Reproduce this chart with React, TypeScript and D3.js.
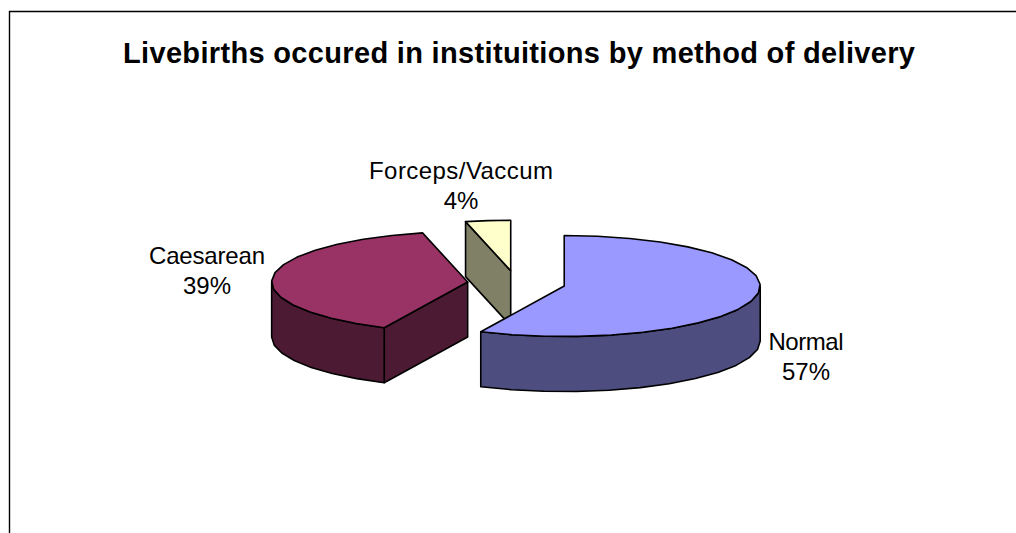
import React from "react";
import * as d3 from "d3";

const title = "Livebirths occured in instituitions by method of delivery";
const categories = ["Normal", "Caesarean", "Forceps/Vaccum"];
const shares = [57, 39.3, 3.7];
const topColors = ["#9999FF", "#993366", "#FFFFCC"];
const sideColors = ["#4D4D80", "#4D1A33", "#808066"];
const labelAnchors: [number, number][] = [[806, 350], [207, 264], [461, 179]];
const labelWidths = [75, 116, 184];

const W = 1016, H = 533;
const RX = 196, RY = 50.5, DEPTH = 55, EXPLODE = 0.25;
const CX = 516.4, CY = 283.3;
const ARC_STEP = (10 * Math.PI) / 180;

const pie = d3.pie<number>().sort(null).value((d) => d);
const slices = pie(shares);
const sx = d3.scaleLinear().domain([-1, 1]).range([-RX, RX]);
const sy = d3.scaleLinear().domain([-1, 1]).range([-RY, RY]);
const line = d3.line<[number, number]>().x((d) => d[0]).y((d) => d[1]);

function rim(cx: number, cy: number, a0: number, a1: number): [number, number][] {
  const n = Math.max(1, Math.ceil((a1 - a0) / ARC_STEP));
  return d3.range(n + 1).map((i) => {
    const a = a0 + ((a1 - a0) * i) / n;
    return [cx + sx(Math.sin(a)), cy + sy(-Math.cos(a))] as [number, number];
  });
}
const drop = (p: [number, number]): [number, number] => [p[0], p[1] + DEPTH];

function Slice({ i }: { i: number }) {
  const s = slices[i];
  const mid = (s.startAngle + s.endAngle) / 2;
  const cx = CX + EXPLODE * sx(Math.sin(mid));
  const cy = CY + EXPLODE * sy(-Math.cos(mid));
  const c: [number, number] = [cx, cy];
  const arc = rim(cx, cy, s.startAngle, s.endAngle);
  const common = { stroke: "#000", strokeWidth: 1.6, strokeLinejoin: "round" as const };

  // Outer wall: only the part of the rim on the front half of the ellipse
  const lo = Math.max(s.startAngle, Math.PI / 2);
  const hi = Math.min(s.endAngle, (3 * Math.PI) / 2);
  const wallRim = hi > lo ? rim(cx, cy, lo, hi) : [];
  const wall = wallRim.length ? [...wallRim, ...wallRim.slice().reverse().map(drop)] : null;

  // Cut face from the centre to the slice's first rim point, seen on the two left slices
  const start = arc[0];
  const cut = i > 0 ? [start, c, drop(c), drop(start)] : null;

  return (
    <g>
      {cut && <path d={line(cut) + "Z"} fill={sideColors[i]} {...common} />}
      {wall && <path d={line(wall) + "Z"} fill={sideColors[i]} {...common} />}
      <path d={line([c, ...arc]) + "Z"} fill={topColors[i]} {...common} />
    </g>
  );
}

export default function App() {
  return (
    <svg
      width={W}
      height={H}
      viewBox={`0 0 ${W} ${H}`}
      style={{ position: "fixed", left: 0, top: 0, background: "#fff" }}
      fontFamily="'Liberation Sans', Arial, sans-serif"
    >
      <path d={`M9.5 ${H}V11.5H${W}`} fill="none" stroke="#000" strokeWidth={1.4} />
      <text x={519} y={63} textAnchor="middle" fontSize={29} fontWeight={700} fill="#000" textLength={792} lengthAdjust="spacing">
        {title}
      </text>
      <Slice i={2} />
      <Slice i={1} />
      <Slice i={0} />
      {categories.map((c, i) => (
        <g key={c} fontSize={24} fill="#000" textAnchor="middle">
          <text x={labelAnchors[i][0]} y={labelAnchors[i][1]} textLength={labelWidths[i]} lengthAdjust="spacing">{c}</text>
          <text x={labelAnchors[i][0]} y={labelAnchors[i][1] + 30}>{Math.round(shares[i])}%</text>
        </g>
      ))}
    </svg>
  );
}
